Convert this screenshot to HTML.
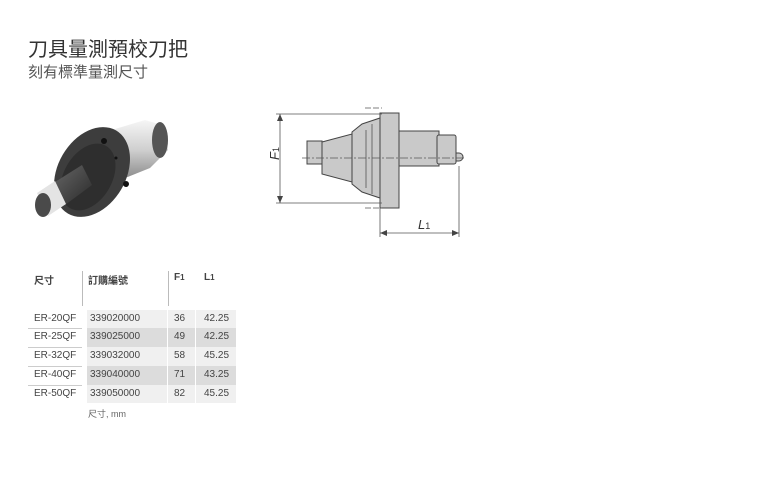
<!DOCTYPE html>
<html><head><meta charset="utf-8"><style>
body{margin:0;width:758px;height:483px;background:#fff;position:relative;overflow:hidden;font-family:"Liberation Sans","Noto Sans CJK TC",sans-serif;color:#333}
.a{position:absolute;white-space:nowrap}
.t{font-size:10px;color:#444}
</style></head><body>
<div class="a" style="left:28px;top:33px;font-size:20px;color:#333">刀具量測預校刀把</div>
<div class="a" style="left:28px;top:61px;font-size:15px;color:#555">刻有標準量測尺寸</div>

<svg class="a" style="left:0;top:0" width="758" height="483">
<defs>
<linearGradient id="c" x1="0" y1="0" x2="0" y2="1"><stop offset="0" stop-color="#f6f6f6"/><stop offset="0.5" stop-color="#cfcfcf"/><stop offset="1" stop-color="#888"/></linearGradient>
<linearGradient id="s" x1="0" y1="0" x2="1" y2="1"><stop offset="0" stop-color="#666"/><stop offset="1" stop-color="#2a2a2a"/></linearGradient>
</defs>
<polygon points="105,132 145,120 162,125 168,150 150,168 120,180" fill="url(#c)"/>
<ellipse cx="160" cy="140" rx="8" ry="18" fill="#555"/>
<ellipse cx="92" cy="172" rx="34" ry="48" transform="rotate(30 92 172)" fill="#3d3d3d"/>
<ellipse cx="88" cy="177" rx="24" ry="36" transform="rotate(30 88 177)" fill="#2e2e2e"/>
<polygon points="55,182 82,165 92,185 65,205" fill="url(#s)"/>
<polygon points="37,193 55,181 66,204 48,216" fill="#e4e4e4"/>
<ellipse cx="43" cy="205" rx="8" ry="12" fill="#4a4a4a"/>
<circle cx="104" cy="141" r="3" fill="#111"/><circle cx="126" cy="184" r="3" fill="#111"/><circle cx="116" cy="158" r="1.5" fill="#111"/>

<g stroke="#444" fill="#c9c9c9" stroke-width="1">
<rect x="307" y="141" width="15" height="23"/>
<polygon points="322,142 352,134 352,182 322,174"/>
<polygon points="352,132 362,124 380,118 380,198 362,192 352,184"/>
<rect x="380" y="113" width="19" height="95"/>
<rect x="399" y="131" width="40" height="35"/>
<rect x="437" y="135" width="19" height="29" rx="2"/>
<path d="M456,153 h3 a4,4 0 0 1 0,8 h-3 z"/>
</g>
<g stroke="#555" fill="none" stroke-width="0.8">
<line x1="302" y1="158" x2="465" y2="158" stroke-dasharray="8,2,2,2"/>
<line x1="276" y1="114" x2="382" y2="114"/><line x1="276" y1="203" x2="382" y2="203"/>
<line x1="280" y1="114" x2="280" y2="203"/>
<line x1="380" y1="208" x2="380" y2="237"/><line x1="459" y1="166" x2="459" y2="237"/>
<line x1="380" y1="233" x2="459" y2="233"/>
<line x1="365" y1="108" x2="382" y2="108" stroke-dasharray="6,2"/>
<line x1="365" y1="208" x2="382" y2="208" stroke-dasharray="6,2"/>
<line x1="366" y1="130" x2="366" y2="188"/><line x1="372" y1="124" x2="372" y2="194"/>
</g>
<g fill="#444">
<polygon points="280,114 277,121 283,121"/><polygon points="280,203 277,196 283,196"/>
<polygon points="380,233 387,230 387,236"/><polygon points="459,233 452,230 452,236"/>
</g>
<text x="276" y="163" font-size="13" font-style="italic" fill="#333" transform="rotate(-90 276 160)" font-family="Liberation Sans">F<tspan font-size="9" font-style="normal">1</tspan></text>
<text x="418" y="229" font-size="13" font-style="italic" fill="#333" font-family="Liberation Sans">L<tspan font-size="9" font-style="normal">1</tspan></text>

<rect x="87" y="310" width="149" height="18" fill="#f0f0f0"/>
<rect x="87" y="328" width="149" height="19" fill="#dcdcdc"/>
<rect x="87" y="347" width="149" height="19" fill="#f0f0f0"/>
<rect x="87" y="366" width="149" height="19" fill="#dcdcdc"/>
<rect x="87" y="385" width="149" height="18" fill="#f0f0f0"/>
<g stroke="#fff" stroke-width="1"><line x1="167.5" y1="310" x2="167.5" y2="403"/><line x1="195.5" y1="310" x2="195.5" y2="403"/></g>
<g stroke="#bbb" stroke-width="1"><line x1="82.5" y1="271" x2="82.5" y2="306"/><line x1="168.5" y1="271" x2="168.5" y2="306"/></g>
<g stroke="#ccc" stroke-width="1"><line x1="28" y1="328.5" x2="82" y2="328.5"/><line x1="28" y1="347.5" x2="82" y2="347.5"/><line x1="28" y1="366.5" x2="82" y2="366.5"/><line x1="28" y1="385.5" x2="82" y2="385.5"/></g>
</svg>

<div class="a t" style="left:34px;top:272px;font-weight:bold">尺寸</div>
<div class="a t" style="left:88px;top:272px;font-weight:bold">訂購編號</div>
<div class="a t" style="left:174px;top:272px;font-weight:bold">F<span style="font-size:8px">1</span></div>
<div class="a t" style="left:204px;top:272px;font-weight:bold">L<span style="font-size:8px">1</span></div>

<div class="a t" style="left:34px;top:313px">ER-20QF</div><div class="a t" style="left:90px;top:313px">339020000</div><div class="a t" style="left:174px;top:313px">36</div><div class="a t" style="left:204px;top:313px">42.25</div>
<div class="a t" style="left:34px;top:331px">ER-25QF</div><div class="a t" style="left:90px;top:331px">339025000</div><div class="a t" style="left:174px;top:331px">49</div><div class="a t" style="left:204px;top:331px">42.25</div>
<div class="a t" style="left:34px;top:350px">ER-32QF</div><div class="a t" style="left:90px;top:350px">339032000</div><div class="a t" style="left:174px;top:350px">58</div><div class="a t" style="left:204px;top:350px">45.25</div>
<div class="a t" style="left:34px;top:369px">ER-40QF</div><div class="a t" style="left:90px;top:369px">339040000</div><div class="a t" style="left:174px;top:369px">71</div><div class="a t" style="left:204px;top:369px">43.25</div>
<div class="a t" style="left:34px;top:388px">ER-50QF</div><div class="a t" style="left:90px;top:388px">339050000</div><div class="a t" style="left:174px;top:388px">82</div><div class="a t" style="left:204px;top:388px">45.25</div>
<div class="a" style="left:88px;top:407px;font-size:9px;color:#666">尺寸, mm</div>
</body></html>
